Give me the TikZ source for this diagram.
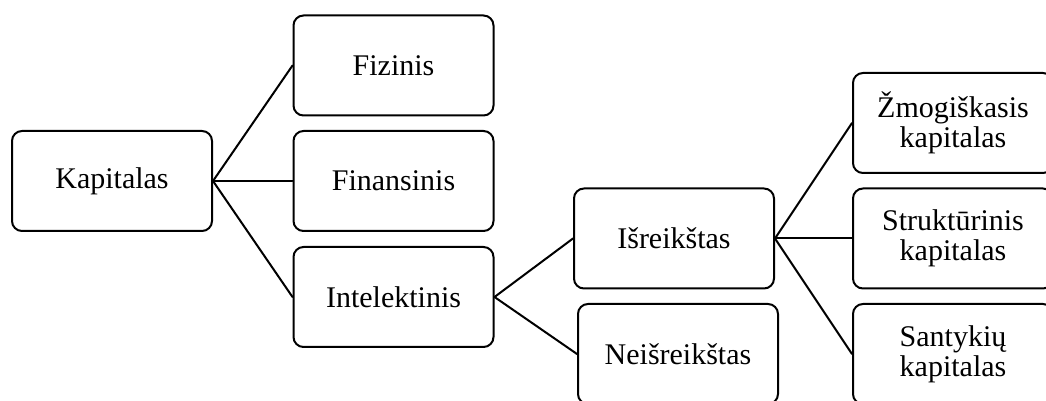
\documentclass[tikz,border=0pt]{standalone}
\usepackage{fontspec}
\setmainfont{Liberation Serif}
\tikzset{box/.style={draw,rounded corners=5pt,minimum width=100pt,minimum height=50pt,align=center,font=\fontsize{15}{15}\selectfont}}

\begin{document}
\begin{tikzpicture}[x=0.5pt,y=-0.5pt,line width=1pt,line cap=round,line join=round]
  \useasboundingbox (0,0) rectangle (1046,401);
  \clip (0,0) rectangle (1046,401);
  \node[box] (kap) at (112,181) {Kapitalas};
  \node[box] (fiz) at (393.5,65.5) {Fizinis};
  \node[box] (fin) at (393.5,181) {Finansinis};
  \node[box] (int) at (393.5,297) {Intelektinis};
  \node[box] (isr) at (674,238.5) {Išreikštas};
  \node[box] (neis) at (678,354) {Neišreikštas};
  \node[box] (zmog) at (953,123) {Žmogiškasis\\kapitalas};
  \node[box] (strukt) at (953,238.5) {Struktūrinis\\kapitalas};
  \node[box] (sant) at (953,354) {Santykių\\kapitalas};
  \foreach \x in {fiz,fin,int}
        \draw (kap.east) -- (\x.west);
  \foreach \x in {isr,neis}
        \draw (int.east) -- (\x.west);
  \foreach \x in {zmog,strukt,sant}
        \draw (isr.east) -- (\x.west);
\end{tikzpicture}
\end{document}
